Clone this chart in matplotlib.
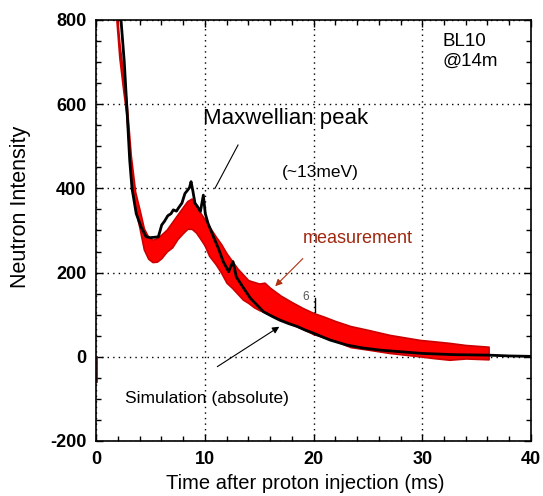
import matplotlib
matplotlib.use("Agg")
import matplotlib.pyplot as plt
from matplotlib.ticker import MultipleLocator

plt.rcParams['font.family'] = ['Liberation Sans', 'DejaVu Sans']
plt.rcParams['axes.unicode_minus'] = False

# simulation (black line)
sim_t = [2.2, 2.3, 2.6, 2.82, 3.1, 3.31, 3.7, 4.14, 4.6, 5.0, 5.4, 5.73, 5.9, 6.04,
         6.3, 6.6, 6.9, 7.11, 7.4, 7.57, 7.9, 8.18, 8.4, 8.6, 8.74, 8.9, 9.1, 9.3,
         9.6, 9.87, 10.05, 10.3, 10.8, 11.25, 11.7, 12.2, 12.4, 12.6, 12.9, 13.5,
         14.2, 15.4, 16.2, 16.9, 17.7, 18.5, 19.2, 20.0, 21.5, 23.05, 24.5, 26.1,
         28.0, 30.0, 33.0, 36.0, 38.0, 40.0]
sim_y = [880, 800, 700, 600, 467, 400, 340, 309, 285, 283, 284, 285, 300, 313,
         322, 335, 340, 349, 346, 353, 365, 388, 395, 402, 416, 395, 365, 358,
         345, 384, 340, 317, 285, 258, 226, 202, 215, 226, 190, 166,
         139, 107, 96, 87, 79, 72, 64, 56, 40, 28, 21, 16,
         12, 8, 5, 4, 2, 1]

# measurement (red noisy band): upper / lower envelope
meas_t = [1.8, 2.15, 2.5, 2.8, 3.2, 3.6, 4.0, 4.4, 4.8, 5.2, 5.6, 6.0, 6.5, 7.0,
          7.5, 8.0, 8.4, 8.8, 9.2, 9.6, 10.0, 10.4, 11.0, 11.5, 12.0, 12.5, 13.0,
          13.5, 14.0, 14.5, 15.0, 15.5, 16.0, 17.0, 18.0, 19.0, 20.0, 21.0, 22.0,
          23.4, 25.0, 27.0, 29.8, 31.0, 32.5, 34.0, 36.1]
meas_hi = [850, 745, 670, 606, 478, 392, 350, 305, 285, 278, 282, 290, 302, 320,
           338, 356, 370, 376, 360, 342, 326, 310, 286, 268, 246, 228, 210,
           196, 182, 178, 174, 176, 164, 145, 130, 116, 104, 95, 85,
           73, 64, 52, 40, 37, 33, 28, 24]
meas_lo = [825, 710, 634, 574, 432, 352, 306, 255, 233, 225, 226, 234, 250, 260,
           280, 294, 304, 304, 295, 280, 264, 240, 220, 200, 176, 164, 150,
           136, 128, 118, 111, 106, 100, 90, 78, 66, 54, 46, 38,
           23, 17, 9, 1, -3, -7, -4, -6]

spike_t = [0.05, 0.05]
spike_y = [0, -60]
bar_t = [20.1, 20.1]
bar_y = [139, 107]

fig = plt.figure(figsize=(5.43, 4.96), dpi=100)
ax = fig.add_axes([0.1768, 0.1109, 0.8011, 0.8488])

ax.fill_between(meas_t, meas_lo, meas_hi, color='#ff0000', edgecolor='#cc0000',
                linewidth=1.2, zorder=2)
ax.plot(spike_t, spike_y, color='#800000', lw=1.2, zorder=2)
ax.plot(sim_t, sim_y, color='black', lw=2.0, zorder=3)
ax.plot(bar_t, bar_y, color='black', lw=1.0, zorder=3)

ax.set_xlim(0, 40)
ax.set_ylim(-200, 800)
ax.xaxis.set_major_locator(MultipleLocator(10))
ax.xaxis.set_minor_locator(MultipleLocator(2))
ax.yaxis.set_major_locator(MultipleLocator(200))
ax.yaxis.set_minor_locator(MultipleLocator(50))
ax.tick_params(which='both', direction='in', top=True, right=True)
ax.tick_params(which='major', length=5, width=1, labelsize=13, pad=7)
ax.tick_params(which='minor', length=3.5, width=1)
for lab in ax.get_xticklabels() + ax.get_yticklabels():
    lab.set_fontweight('bold')
ax.grid(True, which='major', color='black', linestyle=(0, (1, 3)), lw=1)
for s in ax.spines.values():
    s.set_linewidth(1.2)

ax.set_xlabel('Time after proton injection (ms)', fontsize=14.5)
ax.set_ylabel('Neutron Intensity', fontsize=15.5)
ax.xaxis.set_label_coords(0.48, -0.078)
ax.yaxis.set_label_coords(-0.150, 0.556)

ax.text(31.9, 726, 'BL10\n@14m', fontsize=13.5, va='center', ha='left',
        linespacing=1.2)
ax.text(9.84, 567, 'Maxwellian peak', fontsize=16, va='center', ha='left')
ax.plot([13.06, 10.94], [503, 400], color='black', lw=0.8, zorder=4)
ax.text(20.6, 437, '(~13meV)', fontsize=12.5, va='center', ha='center')
ax.text(24.05, 280, 'measurement', fontsize=13, va='center', ha='center',
        color='#a02810')
ax.annotate('', xy=(16.3, 163), xytext=(19.2, 238),
            arrowprops=dict(arrowstyle='-|>', color='#b03010', lw=0.8,
                            mutation_scale=10), zorder=5)
ax.text(19.3, 143, '6', fontsize=8.5, color='#555555', va='center', ha='center')
ax.text(10.2, -99, 'Simulation (absolute)', fontsize=12.5, va='center', ha='center')
ax.annotate('', xy=(17.07, 75), xytext=(10.94, -27),
            arrowprops=dict(arrowstyle='-|>', color='black', lw=0.8,
                            mutation_scale=10), zorder=5)

fig.savefig('out.png', dpi=100)
